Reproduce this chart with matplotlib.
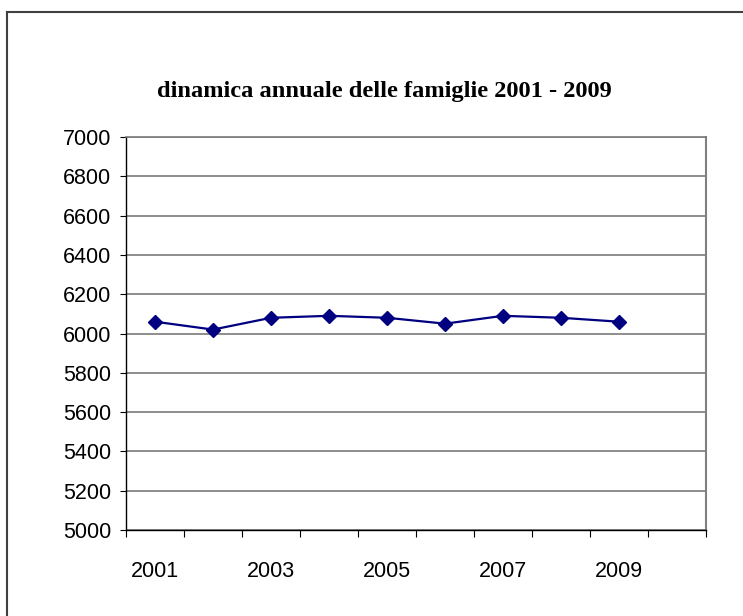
import matplotlib
matplotlib.use("Agg")
import matplotlib.pyplot as plt
from matplotlib.lines import Line2D

# Annual number of households
years = ["2001", "2002", "2003", "2004", "2005", "2006", "2007", "2008", "2009", "2010"]
families = [6060, 6020, 6080, 6090, 6080, 6050, 6090, 6080, 6060]
y_ticks = [5000, 5200, 5400, 5600, 5800, 6000, 6200, 6400, 6600, 6800, 7000]
title = "dinamica annuale delle famiglie 2001 - 2009"

W, H, DPI = 743, 616, 100
fig = plt.figure(figsize=(W / DPI, H / DPI), dpi=DPI)
fig.patch.set_facecolor("white")

left, right, top, bottom = 126, 706, 137, 530
ax = fig.add_axes([left / W, 1 - bottom / H, (right - left) / W, (bottom - top) / H])

x = list(range(len(families)))
ax.plot(x, families, color="#000080", lw=1.6, marker="D", ms=6.8,
        markerfacecolor="#000080", markeredgecolor="#000080", zorder=3)

ax.set_xlim(-0.5, len(years) - 0.5)
ax.set_ylim(y_ticks[0], y_ticks[-1])

# y axis
ax.set_yticks(y_ticks)
ax.set_yticklabels([str(v) for v in y_ticks], fontfamily="Liberation Sans", fontsize=15.5)
ax.tick_params(axis="y", direction="out", length=4.5, width=0.8, pad=6, colors="black")
ax.yaxis.grid(True, color="#7a7a7a", lw=1.2)
ax.set_axisbelow(True)

# x axis: tick marks at category boundaries, labels on every other year
ax.set_xticks([i - 0.5 for i in range(len(years) + 1)])
ax.set_xticklabels([])
ax.tick_params(axis="x", which="major", direction="out", length=5, width=0.8, colors="black")
label_pos = [i for i in range(0, len(years), 2)]
ax.set_xticks(label_pos, minor=True)
ax.set_xticklabels([years[i] for i in label_pos], minor=True,
                   fontfamily="Liberation Sans", fontsize=15.5)
ax.tick_params(axis="x", which="minor", length=0, pad=22)

for s in ("left", "bottom"):
    ax.spines[s].set_color("black")
    ax.spines[s].set_linewidth(1.0)
ax.spines["right"].set_color("#808080")
ax.spines["right"].set_linewidth(1.5)
ax.spines["top"].set_color("#7a7a7a")
ax.spines["top"].set_linewidth(1.2)

fig.text(384 / W, 1 - 92 / H, title, ha="center", va="center",
         fontfamily="Liberation Serif", fontweight="bold", fontsize=17.6)

# chart frame (left and top edges)
bx, by = 7.5 / W, 1 - 11.5 / H
fig.add_artist(Line2D([bx, bx], [0, by], transform=fig.transFigure, color="#404040", lw=1.5))
fig.add_artist(Line2D([bx, 1], [by, by], transform=fig.transFigure, color="#404040", lw=1.5))

fig.savefig("out.png", dpi=DPI)
